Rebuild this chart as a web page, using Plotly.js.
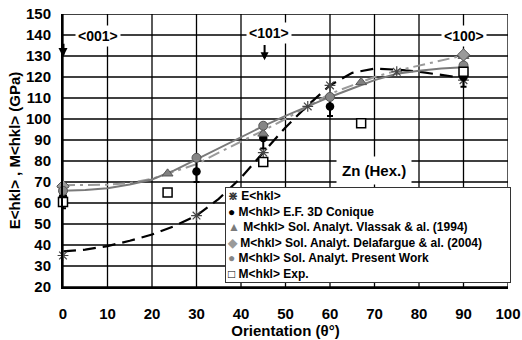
<!DOCTYPE html>
<html>
<head>
<meta charset="utf-8">
<script src="https://cdn.plot.ly/plotly-3.0.1.min.js"></script>
<style>html,body{margin:0;padding:0;background:#fff;}#chart{width:522px;height:340px;}</style>
</head>
<body>
<div id="chart"></div>
<script>
// Axis ranges and ticks
const xRange = [0,100];
const yRange = [20,150];
const xTicks = [0,10,20,30,40,50,60,70,80,90,100];
const yTicks = [20,30,40,50,60,70,80,90,100,110,120,130,140,150];

// Fitted curves
const fitX = [0,5,10,15,20,25,30,35,40,45,50,55,60,65,70,75,80,85,90];
const fitE = [37,37.8,39.5,42,45,49,54,62,72,84,96,106.5,116,122,124,123.5,122.5,121,119.5];
const fitPresent = [65.8,66.2,67,68.8,71.2,75.5,80.8,86,91.5,96.6,101.5,106,110.5,114.5,118.5,121.5,123,124,124.6];
const fitVlassak = [68.5,68.5,68.7,69.5,71.5,75,78.5,84,89.2,94.5,100,106,112,116,120,123,125.5,128,130.3];

// E<hkl>
const eX = [0,30,45,55,60,75,90];
const eY = [35,54,84,106,116,122.5,118.5];
// M<hkl> E.F. 3D Conique
const efX = [0,30,45,60,90];
const efY = [63,75,91,106,120];
const efErr = [5.5,5,5,4.6,4.6];
// Vlassak & al. (1994)
const vlX = [0,23.5,45,67,90];
const vlY = [68.5,74,93,117.5,130];
// Delafargue & al. (2004)
const deX = [0,90];
const deY = [68,130.5];
// Present Work
const pwX = [0,30,45,60,90];
const pwY = [65.8,81.5,96.8,110.5,125.5];
// Exp.
const exX = [0,23.5,45,67,90];
const exY = [60.5,65,79.5,98,122.5];

const names = [
  'E&lt;hkl&gt;',
  'M&lt;hkl&gt; E.F. 3D Conique',
  'M&lt;hkl&gt; Sol. Analyt. Vlassak &amp; al. (1994)',
  'M&lt;hkl&gt; Sol. Analyt. Delafargue &amp; al. (2004)',
  'M&lt;hkl&gt; Sol. Analyt. Present Work',
  'M&lt;hkl&gt; Exp.'
];
const legendSymbols = ['⋇','●','▲','◆','●','□'];
const legendColors = ['#333','#000','#7a7a7a','#9a9a9a','#868686','#000'];

// grid lines as line traces built from the tick arrays
const gx = [], gy = [];
xTicks.forEach(v => { gx.push(v, v, null); gy.push(yRange[0], yRange[1], null); });
yTicks.forEach(v => { gx.push(xRange[0], xRange[1], null); gy.push(v, v, null); });
// tick marks (outside), short segments in data units
const tx = [], ty = [];
xTicks.forEach(v => { tx.push(v, v, null); ty.push(yRange[0], yRange[0] - 2.3, null); });
yTicks.forEach(v => { tx.push(xRange[0], xRange[0] - 1.1, null); ty.push(v, v, null); });

const traces = [
  {x: gx, y: gy, mode:'lines', line:{color:'#000', width:1.3}, showlegend:false, hoverinfo:'skip', connectgaps:false},
  {x: tx, y: ty, mode:'lines', line:{color:'#000', width:1.3}, showlegend:false, hoverinfo:'skip', connectgaps:false, cliponaxis:false},
  {x: fitX, y: fitE, mode:'lines', line:{color:'#000', width:2.2, dash:'13px,7px'}, showlegend:false, hoverinfo:'skip'},
  {x: fitX, y: fitVlassak, mode:'lines', line:{color:'#9a9a9a', width:2, dash:'12px,5px,3px,5px'}, showlegend:false, hoverinfo:'skip'},
  {x: fitX, y: fitPresent, mode:'lines', line:{color:'#7a7a7a', width:2}, showlegend:false, hoverinfo:'skip'},
  {x: eX, y: eY, name: names[0], mode:'markers', cliponaxis:false,
   marker:{symbol:'asterisk-open', size:9, color:'#444', line:{color:'#444', width:1.2}}},
  {x: efX, y: efY, name: names[1], mode:'markers', cliponaxis:false,
   marker:{symbol:'circle', size:8.5, color:'#000'},
   error_y:{type:'data', array: efErr, visible:true, color:'#000', thickness:2, width:3}},
  {x: vlX, y: vlY, name: names[2], mode:'markers', cliponaxis:false,
   marker:{symbol:'triangle-up', size:9.5, color:'#808080', line:{color:'#555', width:1}}},
  {x: deX, y: deY, name: names[3], mode:'markers', cliponaxis:false,
   marker:{symbol:'diamond', size:9.5, color:'#9a9a9a', line:{color:'#555', width:1}}},
  {x: pwX, y: pwY, name: names[4], mode:'markers', cliponaxis:false,
   marker:{symbol:'circle', size:9, color:'#868686', line:{color:'#555', width:1}}},
  {x: exX, y: exY, name: names[5], mode:'markers', cliponaxis:false,
   marker:{symbol:'square', size:9, color:'#fff', line:{color:'#000', width:1.5}}}
];

const legendText = names.map((n, i) =>
  '<span style="color:' + legendColors[i] + '">' + legendSymbols[i] + '</span> ' + n).join('<br>');

const fontFam = '"Liberation Sans", Arial, sans-serif';
const layout = {
  width: 522, height: 340,
  margin: {l:63, r:14, t:14, b:53},
  font: {family: fontFam, size:15, weight:'bold'},
  showlegend: false,
  xaxis: {range:xRange, tickvals:xTicks, showgrid:false,
          showline:true, linecolor:'#000', linewidth:2, ticks:'',
          ticklabelstandoff:12, tickfont:{family: fontFam, size:15, weight:'bold', color:'#000'},
          title:{text:'Orientation (θ°)', font:{family: fontFam, size:15, weight:'bold', color:'#000'}, standoff:2}},
  yaxis: {range:yRange, tickvals:yTicks, showgrid:false,
          showline:true, linecolor:'#000', linewidth:2, ticks:'', ticklabelstandoff:7,
          tickfont:{family: fontFam, size:15, weight:'bold', color:'#000'},
          title:{text:'E&lt;hkl&gt; , M&lt;hkl&gt; (GPa)', font:{family: fontFam, size:15, weight:'bold', color:'#000'}, standoff:2}},
  annotations: [
    {x:7.8, y:139.5, xref:'x', yref:'y', text:'&lt;001&gt;', showarrow:false, bgcolor:'#fff', font:{size:14, weight:'bold', color:'#000'}, borderpad:2},
    {x:46.4, y:140.8, xref:'x', yref:'y', text:'&lt;101&gt;', showarrow:false, bgcolor:'#fff', font:{size:14, weight:'bold', color:'#000'}, borderpad:2},
    {x:90, y:139.5, xref:'x', yref:'y', text:'&lt;100&gt;', showarrow:false, bgcolor:'#fff', font:{size:14, weight:'bold', color:'#000'}, borderpad:2},
    {x:69.8, y:75.5, xref:'x', yref:'y', text:'Zn (Hex.)', showarrow:false, bgcolor:'#fff', font:{size:15, weight:'bold', color:'#000'}, borderpad:5},
    {x:0, y:129.5, ax:0, ay:136.5, xref:'x', yref:'y', axref:'x', ayref:'y', text:'', showarrow:true, arrowhead:2, arrowsize:0.6, arrowwidth:3, arrowcolor:'#000'},
    {x:45.3, y:128, ax:45.3, ay:136, xref:'x', yref:'y', axref:'x', ayref:'y', text:'', showarrow:true, arrowhead:2, arrowsize:0.8, arrowwidth:2, arrowcolor:'#000'},
    {x:0.365, y:0.368, xref:'paper', yref:'paper', xanchor:'left', yanchor:'top', showarrow:false,
     text: legendText, align:'left', width:282, bgcolor:'#fff', bordercolor:'#333', borderwidth:1, borderpad:1,
     font:{family: fontFam, size:12, weight:'bold', color:'#000'}}
  ]
};

Plotly.newPlot('chart', traces, layout, {displayModeBar:false, staticPlot:true});
</script>
</body>
</html>
